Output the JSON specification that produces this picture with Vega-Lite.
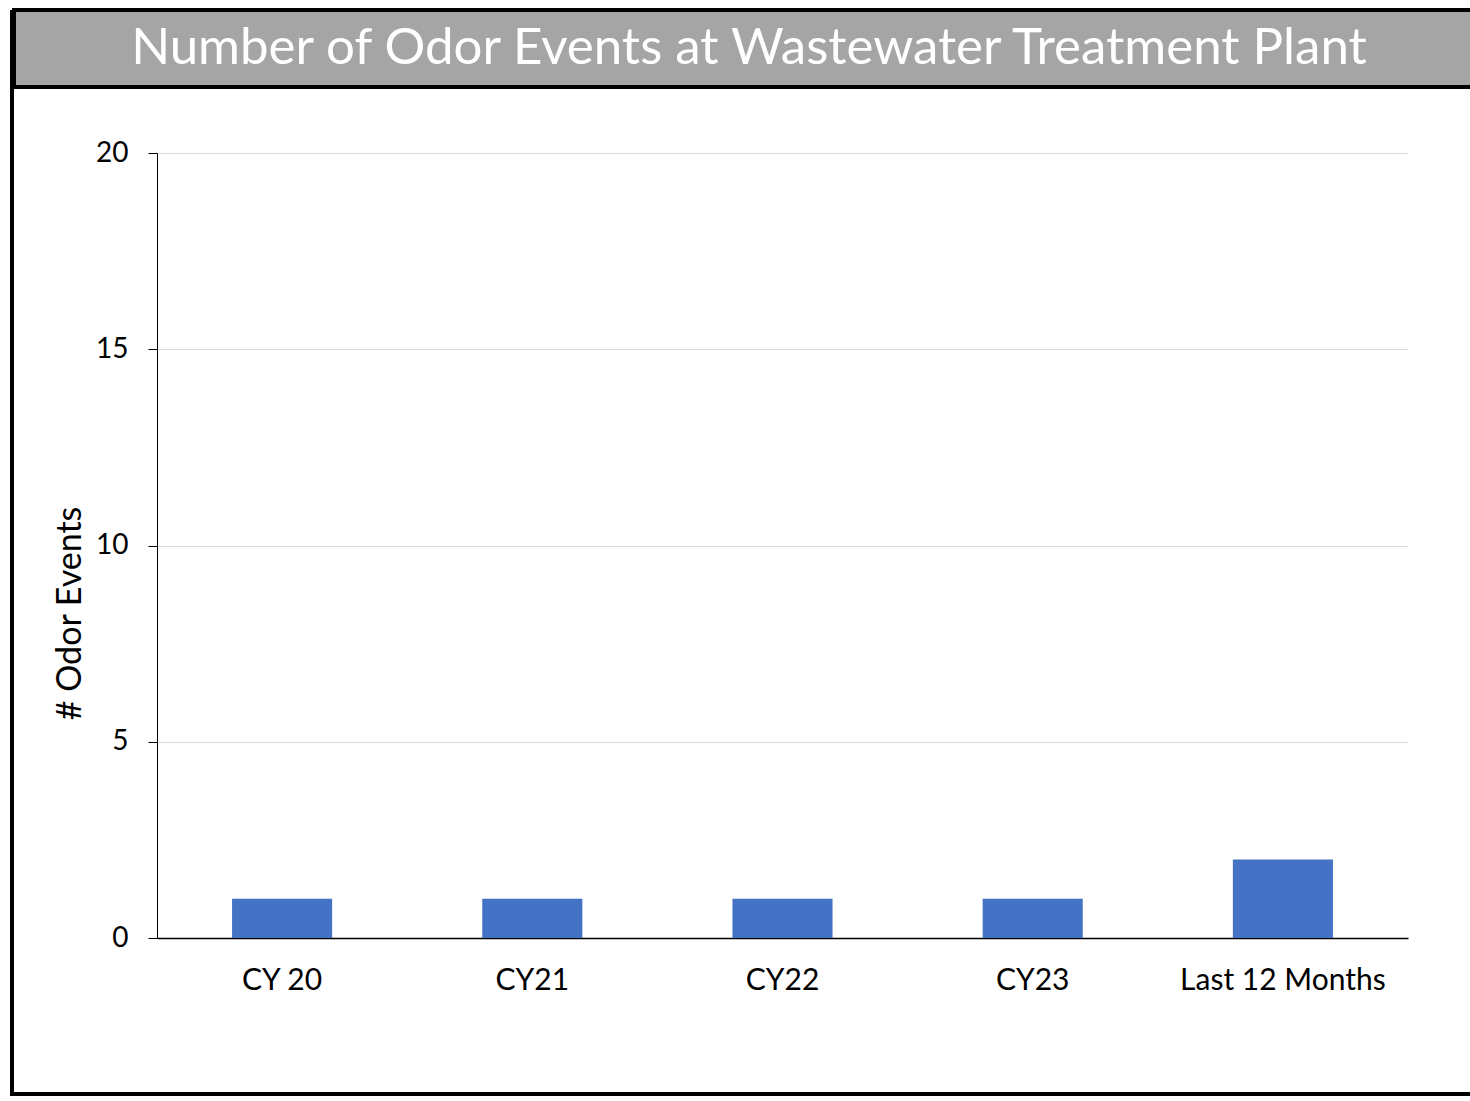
{
  "$schema": "https://vega.github.io/schema/vega-lite/v6.json",
  "background": "white",
  "padding": {"left": 10, "top": 8, "right": -6, "bottom": 0},
  "config": {"view": {"stroke": null}, "font": "Lato"},
  "spacing": -4,
  "hconcat": [
    {
      "width": 4, "height": 1086,
      "view": {"fill": "black", "stroke": null},
      "data": {"values": [{}]},
      "mark": {"type": "rect", "color": "black"}
    },
    {
      "spacing": 50,
      "vconcat": [
        {
          "width": 1462, "height": 77,
          "view": {"fill": "#a5a5a5", "stroke": "black", "strokeWidth": 4},
          "data": {"values": [{"t": "Number of Odor Events at Wastewater Treatment Plant"}]},
          "mark": {"type": "text", "color": "white", "fontSize": 51, "font": "Lato", "dx": 4},
          "encoding": {"text": {"field": "t", "type": "nominal"}}
        },
        {
          "spacing": 38,
          "hconcat": [
            {
              "width": 1, "height": 889,
              "data": {"values": [{}]},
              "mark": {"type": "rect", "opacity": 0}
            },
            {
              "width": 1251, "height": 785,
              "data": {"values": [
                {"period": "CY 20", "events": 1},
                {"period": "CY21", "events": 1},
                {"period": "CY22", "events": 1},
                {"period": "CY23", "events": 1},
                {"period": "Last 12 Months", "events": 2}
              ]},
              "mark": {"type": "bar", "color": "#4472c4"},
              "encoding": {
                "x": {
                  "field": "period", "type": "nominal", "sort": null,
                  "scale": {"paddingInner": 0.6, "paddingOuter": 0.3},
                  "axis": {"title": null, "labelAngle": 0, "ticks": false, "labelPadding": 27,
                           "labelFontSize": 30, "labelColor": "black", "labelFont": "Lato", "labelLimit": 0,
                           "domainColor": "black", "domainWidth": 1.5, "grid": false}
                },
                "y": {
                  "field": "events", "type": "quantitative",
                  "scale": {"domain": [0, 20], "nice": false},
                  "axis": {"values": [0, 5, 10, 15, 20], "title": "# Odor Events",
                           "titleFontSize": 34, "titleFontWeight": "normal", "titleColor": "black",
                           "titleFont": "Lato", "titleX": -87, "titleY": 460, "titleBaseline": "middle",
                           "labelFontSize": 28, "labelColor": "black", "labelFont": "Lato", "labelPadding": 20,
                           "tickSize": 9, "tickColor": "black", "domainColor": "black",
                           "gridColor": "#d9d9d9", "gridWidth": 1}
                }
              }
            }
          ]
        },
        {
          "width": 1464, "height": 4,
          "view": {"fill": "black", "stroke": null},
          "data": {"values": [{}]},
          "mark": {"type": "rect", "color": "black"}
        }
      ]
    }
  ]
}
